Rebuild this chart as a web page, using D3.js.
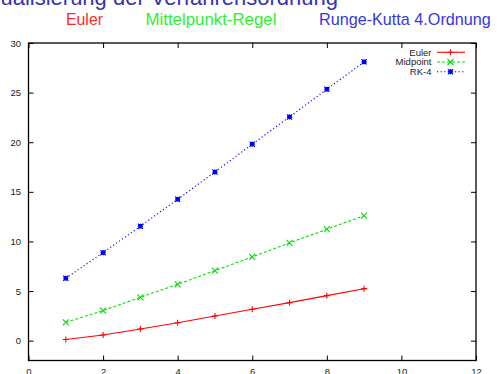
<!DOCTYPE html>
<html><head><meta charset="utf-8">
<script src="https://cdn.jsdelivr.net/npm/d3@7"></script>
<style>html,body{margin:0;padding:0;background:#fff;overflow:hidden}</style>
</head><body>
<svg id="c" width="497" height="374"></svg>
<script>
const xValues = [1,2,3,4,5,6,7,8,9];
const eulerValues = [0.12,0.57,1.18,1.81,2.49,3.16,3.83,4.54,5.24];
const midpointValues = [1.85,3.03,4.37,5.68,7.06,8.44,9.85,11.23,12.6];
const rk4Values = [6.29,8.87,11.53,14.25,17.0,19.8,22.55,25.34,28.1];
const xTicks = [0,2,4,6,8,10,12];
const yTicks = [0,5,10,15,20,25,30];
const seriesNames = ["Euler","Midpoint","RK-4"];
const headerLabels = ["Euler","Mittelpunkt-Regel","Runge-Kutta 4.Ordnung"];
const titleText = "Visualisierung der Verfahrensordnung";

const svg = d3.select("#c");
const L = 28.5, R = 476, T = 43, B = 360.5;
const x = d3.scaleLinear().domain([0,12]).range([L,R]);
const y = d3.scaleLinear().domain([-2,30]).range([B,T]);
const font = "Liberation Sans, Arial, sans-serif";

// title (clipped at top as in reference)
svg.append("text").attr("x",338).attr("y",4.5).attr("text-anchor","end")
  .attr("font-family",font).attr("font-size",22)
  .attr("fill","#3434b0").text(titleText);
const hdrX = [66,145.5,319], hdrW = [37,131,172], hdrC = ["#ff2a2a","#2ef02e","#3636e6"];
headerLabels.forEach((t,i)=>{
  const el = svg.append("text").attr("x",hdrX[i]).attr("y",25)
    .attr("font-family",font).attr("font-size",16)
    .attr("fill",hdrC[i]).text(t);
  const w = el.node().getComputedTextLength();
  if (w > 0) {
    const sx = hdrW[i]/w;
    el.attr("x",0).attr("y",0)
      .attr("transform",`translate(${hdrX[i]},25) scale(${sx},1)`);
  }
});

// axes with inner ticks
const tk = 5;
const gB = svg.append("g").attr("transform",`translate(0,${B})`)
  .call(d3.axisBottom(x).tickValues(xTicks).tickSize(-tk).tickPadding(8).tickSizeOuter(0));
const gT = svg.append("g").attr("transform",`translate(0,${T})`)
  .call(d3.axisTop(x).tickValues(xTicks).tickSize(-tk).tickFormat("").tickSizeOuter(0));
const gL = svg.append("g").attr("transform",`translate(${L},0)`)
  .call(d3.axisLeft(y).tickValues(yTicks).tickSize(-tk).tickPadding(7.5).tickSizeOuter(0));
const gR = svg.append("g").attr("transform",`translate(${R},0)`)
  .call(d3.axisRight(y).tickValues(yTicks).tickSize(-tk).tickFormat("").tickSizeOuter(0));
[gB,gT,gL,gR].forEach(g=>{
  g.select(".domain").remove();
  g.selectAll("line").attr("stroke","#000");
  g.selectAll("text").attr("font-family",font).attr("font-size",9.5).attr("fill","#222");
});
svg.append("rect").attr("x",L).attr("y",T).attr("width",R-L).attr("height",B-T)
  .attr("fill","none").attr("stroke","#000").attr("stroke-width",1.3);

const series = [
  {name:seriesNames[0], vals:eulerValues, color:"#ff0000", dash:null, marker:"plus"},
  {name:seriesNames[1], vals:midpointValues, color:"#00e000", dash:"3,2", marker:"cross"},
  {name:seriesNames[2], vals:rk4Values, color:"#0000ff", dash:"1.2,2.4", marker:"star"}
];
function marker(g,cx,cy,type,color){
  const s = type==="star"?2.6:3;
  const p=d3.path();
  if(type!=="cross"){p.moveTo(cx-s,cy);p.lineTo(cx+s,cy);p.moveTo(cx,cy-s);p.lineTo(cx,cy+s);}
  if(type!=="plus"){p.moveTo(cx-s,cy-s);p.lineTo(cx+s,cy+s);p.moveTo(cx-s,cy+s);p.lineTo(cx+s,cy-s);}
  if(type==="star"){const q=1.6;p.moveTo(cx-q,cy-q);p.lineTo(cx+q,cy-q);p.lineTo(cx+q,cy+q);p.lineTo(cx-q,cy+q);p.closePath();}
  g.append("path").attr("d",p.toString()).attr("stroke",color).attr("stroke-width",1.1)
    .attr("fill",type==="star"?color:"none");
}
const line = d3.line().x((d,i)=>x(xValues[i])).y(d=>y(d));
series.forEach((s,k)=>{
  svg.append("path").attr("d",line(s.vals)).attr("fill","none").attr("stroke",s.color)
    .attr("stroke-width",1.1).attr("stroke-dasharray",s.dash);
  const g=svg.append("g");
  s.vals.forEach((v,i)=>marker(g,x(xValues[i]),y(v),s.marker,s.color));
  // legend
  const ly = 52.3 + k*9.7;
  svg.append("text").attr("x",431.5).attr("y",ly+3.3).attr("text-anchor","end")
    .attr("font-family",font).attr("font-size",9.5).attr("fill","#222").text(s.name);
  svg.append("line").attr("x1",437).attr("x2",465).attr("y1",ly).attr("y2",ly)
    .attr("stroke",s.color).attr("stroke-width",1.1).attr("stroke-dasharray",s.dash);
  marker(svg,450.5,ly,s.marker,s.color);
});
</script>
</body></html>
